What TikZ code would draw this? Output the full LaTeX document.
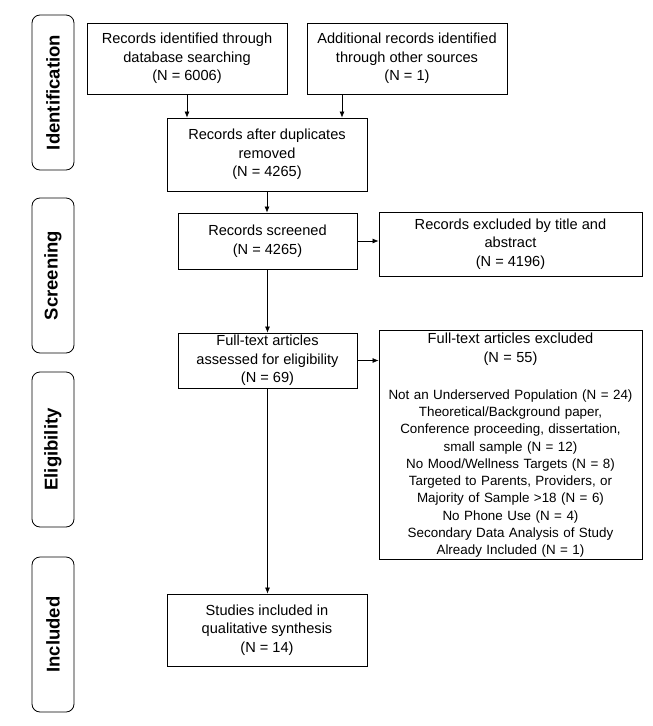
\documentclass[tikz,border=0pt]{standalone}
\usepackage{fontspec}
\setmainfont{Liberation Sans}
\usetikzlibrary{arrows.meta}
\tikzset{
  box/.style={draw, line width=0.8pt, align=center, inner sep=2pt,
    font=\fontsize{14.6}{18.5}\selectfont},
  phase/.style={draw, line width=0.8pt, rounded corners=8pt, minimum width=42pt,
    minimum height=155pt},
  phaselabel/.style={rotate=90, font=\fontsize{18.5}{20}\selectfont\bfseries},
  arr/.style={-{Latex[length=6pt,width=5pt]}, line width=0.7pt}
}
\begin{document}
\begin{tikzpicture}[x=1pt,y=1pt]
          \useasboundingbox (0,0) rectangle (653,-726);
          % phases
          \node[phase] (idbox) at (53,-92.5) {};
          \node[phaselabel] (id) at (idbox.center) {Identification};
          \node[phase] (scbox) at (53,-275.5) {};
          \node[phaselabel] (sc) at (scbox.center) {Screening};
          \node[phase] (elbox) at (53,-449.5) {};
          \node[phaselabel] (el) at (elbox.center) {Eligibility};
          \node[phase] (inbox) at (53,-634.5) {};
          \node[phaselabel] (in) at (inbox.center) {Included};
          % boxes
          \node[box, minimum width=200pt, minimum height=71pt] (db) at (187,-58.5)
            {Records identified through\\database searching\\(N = 6006)};
          \node[box, minimum width=200pt, minimum height=71pt] (other) at (407,-58.5)
            {Additional records identified\\through other sources\\(N = 1)};
          \node[box, minimum width=200pt, minimum height=73pt] (dup) at (267,-154.5)
            {Records after duplicates\\removed\\(N = 4265)};
          \node[box, minimum width=179pt, minimum height=56pt] (screen) at (267.5,-241)
            {Records screened\\(N = 4265)};
          \node[box, minimum width=263pt, minimum height=64pt] (excl) at (510.5,-244)
            {Records excluded by title and\\abstract\\(N = 4196)};
          \node[box, minimum width=179pt, minimum height=55pt] (full) at (267.5,-360.5)
            {Full-text articles\\assessed for eligibility\\(N = 69)};
          \node[box, minimum width=263pt, minimum height=224pt, text width=257pt,
            font=\fontsize{13.4}{17.3}\selectfont] (fullexcl) at (510.5,-445)
            {{\fontsize{14.6}{17.3}\selectfont Full-text articles excluded\\[2pt](N = 55)}\\[19.5pt]
             Not an Underserved Population (N = 24)\\
             Theoretical/Background paper,\\
             Conference proceeding, dissertation,\\
             small sample (N = 12)\\
             No Mood/Wellness Targets (N = 8)\\
             Targeted to Parents, Providers, or\\
             Majority of Sample >18 (N = 6)\\
             No Phone Use (N = 4)\\
             Secondary Data Analysis of Study\\
             Already Included (N = 1)};
          \node[box, minimum width=200pt, minimum height=72pt] (incl) at (267,-630)
            {Studies included in\\qualitative synthesis\\(N = 14)};
          % arrows
          \draw[arr] (db.south) -- (db.south |- dup.north);
          \draw[arr] ([xshift=-65pt]other.south) -- ([xshift=-65pt]other.south |- dup.north);
          \draw[arr] (dup.south) -- (dup.south |- screen.north);
          \draw[arr] (screen.east) -- (screen.east -| excl.west);
          \draw[arr] (screen.south) -- (full.north);
          \draw[arr] (full.east) -- (full.east -| fullexcl.west);
          \draw[arr] (full.south) -- (full.south |- incl.north);
\end{tikzpicture}
\end{document}
